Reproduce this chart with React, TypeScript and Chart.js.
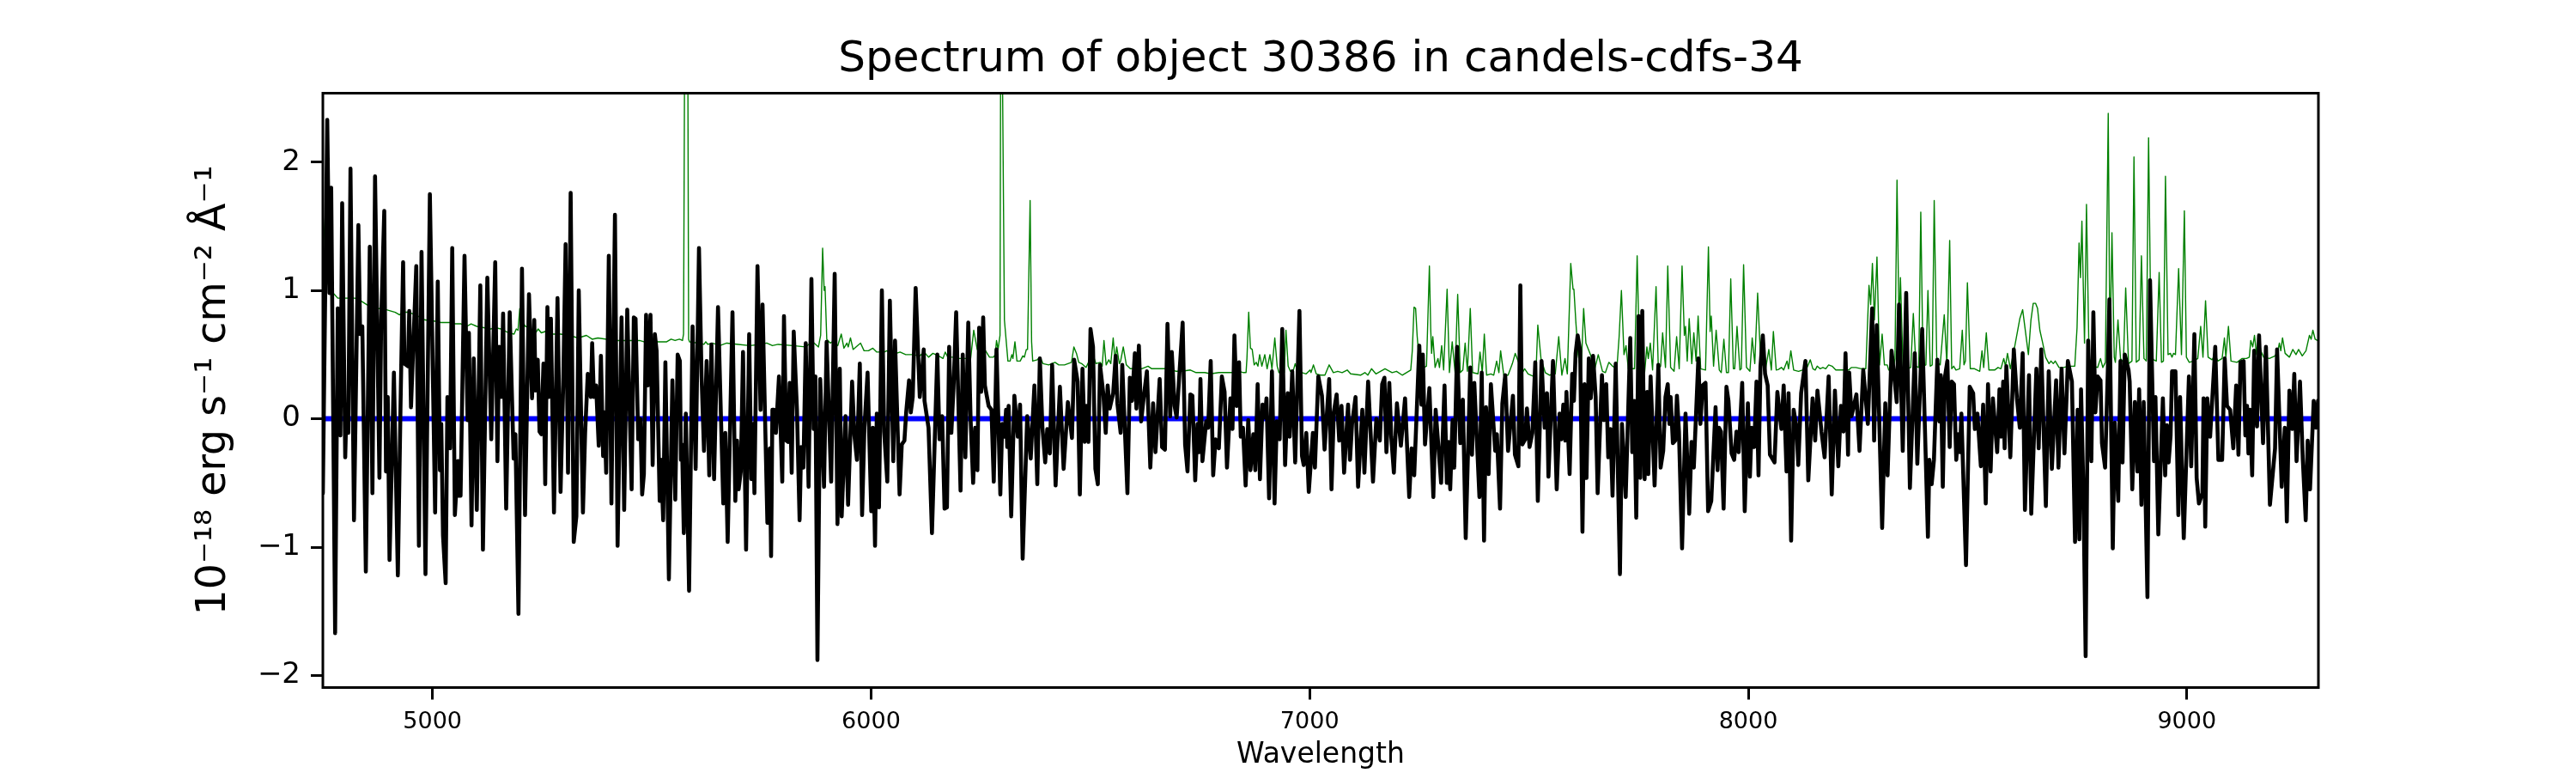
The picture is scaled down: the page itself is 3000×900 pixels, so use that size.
import { useEffect, useRef } from "react";
import { Chart, registerables } from "chart.js";

Chart.register(...registerables);

const titleText = "Spectrum of object 30386 in candels-cdfs-34";
const xLabel = "Wavelength";
const yLabel = "10⁻¹⁸ erg s⁻¹ cm⁻² Å⁻¹";
const xTickValues = [5000, 6000, 7000, 8000, 9000];
const yTickValues = [-2, -1, 0, 1, 2];
const zeroWave = [4750, 9300];
const zeroFlux = [0, 0];

const blackWave = [
4750,4760,4765,4769,4778,4784,4790,4794,4801,4804,4808,4813,4821,4831,4835,4840,4848,4857,4863,4869,4879,4883,4890,4894,4898,4902,4912,4921,4927,4933,4936,4944,4947,4951,4963,4969,4975,4984,4994,5006,5012,5017,5020,5024,5030,5034,5040,5045,5051,5058,5060,5064,5073,5080,5083,5089,5094,5101,5109,5115,5125,5134,5143,5148,5152,5157,5161,5168,5176,5185,5189,5196,5204,5211,5220,5227,5232,5235,5240,5244,5248,5253,5257,5262,
5265,5270,5277,5285,5292,5298,5303.5,5309,5315,5322,5328,5333.5,5343,5348,5354,5361,5364,5368,5373,5379,5384,5389,5392,5396,5402,5408,5416,5422,5431,5437,5444,5454,5459,5463,5469,5474,5478,5482,5487,5491,5497,5502,5507,5511,5518,5521,5526,5531,5539,5547,5553.5,5559,5564,5566.5,5569,5573,5577.6,5585,5593,5600,5607.6,5613.5,5619,5625,5631,5636,5642,5651,5663,5667.6,5673,5684,5690.5,5694.4,5698,5703,5708,5715,5722,5727,5731,5734,5741,5748,5752.5,5763.6,5769,5772,5775,
5778.5,5783,5790,5797.5,5801.4,5806.6,5810.5,5814.4,5819,5823.6,5831,5837,5840.5,5845.7,5851,5857.5,5864,5869,5873,5877.7,5884,5892.7,5898.6,5909,5917,5923.4,5928.6,5933,5941.7,5947.6,5956.7,5962,5967.8,5974.3,5979.5,5984.8,5992,6000.4,6004,6009,6013,6018,6024.6,6029.8,6037,6042.8,6050.7,6054.6,6065,6070,6076,6080,6086.6,6090.5,6095,6101.6,6111,6116,6120,6121.8,6131,6138.8,6151,6156,6162,6167.5,6173,6178,6183,6188,6194,6204,6209,6215,6221.6,6227,6232.7,6237.3,6242.5,6246.4,6251,6255.6,6259.5,6268,6274.5,6279.7,
6286,6294.7,6299,6304,6307.8,6310.4,6313.6,6319.5,6326.7,6334.5,6339.7,6345.6,6356,6364,6372.4,6379,6384.8,6390.7,6397,6401.7,6407.6,6412.8,6420.7,6430.5,6439,6448.7,6458,6463,6471,6476,6482,6487.2,6491,6495.7,6500.3,6506,6511.4,6517,6522,6529.7,6535,6539.4,6544,6552,6557.7,6561.6,6569,6572.7,6584.5,6590,6595,6601.4,6605,6610.6,6615.8,6621.7,6628.9,6636.7,6643,6648.4,6658,6663.4,6670,6675.8,6682,6685.6,6692,6696.7,6710.4,6716,6721.5,6728,6732.6,6739,6744.4,6747.6,6751,6755.5,6764,6768.5,6774.4,6780,
6785.4,6793,6799.8,6806,6811.5,6819.4,6824,6828.5,6833.7,6839,6842.9,6848,6854,6860,6865,6871.6,6876,6881.4,6886.6,6892.5,6897.7,6901.6,6907.5,6914,6920,6925,6931.6,6937.5,6944,6950,6954.5,6960.3,6967,6976.7,6982.5,6986.4,6992.3,6998,7007.3,7012,7019.7,7028,7034,7044.5,7049.8,7055,7061.5,7067.4,7072.6,7078.5,7087.6,7092,7096.7,7104.6,7110.4,7120,7124.8,7133.3,7144.4,7152,7160,7165.3,7170.5,7175,7181.6,7186,7192,7199,7208,7217.5,7227,7232.5,7238.4,7250,7255,7258,7263,7273,7282,7287.3,
7299.7,7307.5,7312.7,7316.6,7320.5,7325.8,7329.7,7336.2,7343.4,7349.3,7355.8,7366.2,7370.1,7375.4,7387.1,7392.3,7397.6,7402.1,7408,7413.2,7423,7426.9,7434.1,7439.3,7445.9,7452.4,7463.5,7468,7475.9,7480.4,7485,7491.5,7495.4,7501.3,7507.8,7514.4,7520.2,7528.7,7535.9,7541.1,7544.4,7554.8,7563.3,7569.8,7573.8,7578.3,7582.9,7585.5,7592.7,7598.6,7602.5,7606.4,7611,7616.8,7622,7626.6,7631.2,7636.4,7641,7646.2,7652.1,7656.6,7666.4,7671,7676.2,7680.8,7686,7690.6,7697.8,7707.5,7712.1,7720.6,7731,7735.6,7740.2,7744.7,7750,7753.9,7758.4,7763.7,7769.5,7772.1,7777.4,7786.5,7795,7800.2,7806.1,7811.3,
7816.5,7820.4,7823,7828.2,7833.5,7837.4,7842,7849.1,7857,7865.4,7870.7,7875.9,7886.3,7890.9,7896.1,7902.6,7908.5,7915.7,7925.5,7930,7933.3,7937.9,7943.8,7950.3,7954.9,7962,7967.9,7973.1,7978.3,7986.2,7992,7999.2,8003.8,8007.7,8013.6,8018.8,8023.4,8027.9,8033.2,8038.4,8044.3,8049.5,8054.7,8059.9,8066.4,8075.6,8080.8,8087.3,8091.9,8097.8,8103.6,8110.2,8114.1,8120.6,8130.4,8136.9,8146.7,8152.6,8157.8,8167,8174.1,8183.3,8190.4,8197.6,8205.4,8211.3,8217.2,8221.8,8227.6,8230.2,8235.5,8246.6,8253.7,8262.2,8272.7,8282.5,8287,8292.9,8305.3,8312.5,8317.7,
8326.8,8331.4,8338.6,8343.8,8352.3,8360.1,8368.6,8379.7,8385.5,8396.6,8409.7,8413,8418.2,8423.4,8431.2,8435.8,8439,8443.6,8448.2,8454,8459.3,8463.9,8469.1,8474.3,8478.2,8482.8,8486,8496.5,8505,8512.8,8516.7,8522.6,8530.4,8535.6,8541.5,8546.7,8552.6,8557.8,8567.6,8572.8,8576.7,8581.3,8584.6,8588.5,8597.6,8605.5,8612.6,8619.2,8625.7,8630.9,8640.1,8645.3,8657,8662.2,8668.1,8678.6,8685.1,8692.3,8702,8707.3,8714.4,8721,8728.8,8738,8745.1,8751,8754.9,8758.8,8764,8769.3,8775.1,8782.3,8786.9,8791.5,8796.7,8803.2,8806.5,8813.7,8820.2,8823.5,
8831.2,8835.8,8843.6,8848.8,8853.4,8858.6,8867.1,8869.7,8875.6,8881.5,8887.3,8891.3,8896.5,8901.7,8910.2,8916.1,8925.2,8928.5,8935,8945.4,8950.6,8954.6,8958.5,8963,8966.3,8974.1,8980.7,8984.6,8993,9004.8,9010,9017.2,9022.4,9027.6,9035.5,9038.1,9042,9046.6,9053.1,9064.8,9072,9080.5,9086.4,9091.6,9098.8,9106,9112.5,9117.7,9122.3,9129.5,9133.4,9137.3,9140.5,9143.8,9149,9153.6,9160.1,9164.7,9173.8,9180.4,9189.5,9201.2,9205.8,9216.3,9223.4,9228,9233.9,9240.4,9245,9250.2,9258,9264.5,9271.1,9275.6,9280.9,9289.3,9294.6,9299.1
];

const blackFlux = [
-.58,2.33,.98,1.8,-1.67,.86,-.13,1.68,-.3,.11,-.11,1.95,-.79,1.51,.66,.72,-1.19,1.34,-.58,1.89,-.46,.77,1.62,-.41,.17,-1.1,.36,-1.22,.08,1.22,.43,.41,.84,.09,1.19,-.99,1.3,-1.21,1.75,-.73,1.07,-.4,-.04,-.91,-1.28,.17,-.23,1.33,-.75,-.33,-.6,-.6,1.27,-.01,.67,-.83,.47,-.71,1.04,-1.02,1.1,-.16,1.22,-.33,.56,.17,.82,-.7,.83,-.31,-.12,-1.52,1.17,-.75,.97,.16,.77,.22,.46,-.1,-.12,.43,-.51,.87,
.17,.78,-.73,.94,-.57,.26,1.36,-.42,1.76,-.96,-.76,1,-.73,-.11,.35,.17,.59,.17,.26,-.21,.49,-.29,.05,-.42,1.27,-.66,1.59,-.99,.79,-.71,.85,-.55,.79,.78,-.16,0,-.59,-.43,.81,.26,.81,-.36,.66,.53,-.64,-.32,-.79,.44,-1.25,.3,-.63,.5,.45,-.32,-.2,-.89,.04,-1.34,.72,-.39,1.33,.33,-.25,.45,-.44,.58,-.47,.87,-.66,-.11,-.96,.83,-.64,-.17,-.55,-.41,.52,-1.02,.66,-.47,-.04,-.58,1.19,.07,.89,-.81,-.23,-1.07,.07,
.07,-.11,.33,-.49,.8,-.17,-.18,.28,-.42,.68,.07,-.79,-.22,-.38,.59,-.53,1.09,-.08,.33,-1.88,.31,-.53,.6,-.49,1.13,-.82,.39,-.76,.02,-.67,.29,-.13,-.32,.43,-.75,-.07,.36,-.72,-.07,-.99,.04,-.69,1,-.1,-.49,.92,-.33,.61,-.59,-.2,-.17,.05,.3,.05,.17,1.02,.17,.36,.54,.14,-.07,-.89,.5,-.16,.02,-.7,-.69,.56,-.11,.24,.83,-.56,.5,-.3,.75,-.01,-.5,-.07,-.4,.71,.21,.79,.26,.1,.07,-.49,
.54,-.59,-.04,-.14,.07,-.22,.1,-.76,.18,-.14,.11,-1.09,.02,-.31,.26,-.51,.47,-.07,-.34,-.08,-.27,.42,-.52,.25,-.39,.13,-.15,.46,.29,-.59,.39,-.18,.1,-.18,.7,.56,-.39,-.51,.42,.19,-.11,.26,.08,.2,.49,.12,-.11,.42,-.58,.32,.14,.51,.08,.57,-.02,.17,.37,-.38,.12,-.26,.31,-.22,-.24,.74,.02,.52,.1,.01,.75,-.2,-.41,.19,.18,-.48,-.04,-.26,.31,-.33,-.02,-.07,.45,-.44,
-.16,-.23,.33,.21,-.38,.16,-.08,.65,.1,.44,-.14,-.07,-.52,-.01,-.4,-.12,-.4,.27,-.47,.11,.01,.16,-.62,.37,-.66,-.02,-.16,.7,-.36,.2,-.14,.37,-.34,.84,-.29,-.36,-.11,-.57,-.11,-.38,.33,.18,-.24,.31,-.55,.05,.19,-.17,.1,-.42,.11,-.32,-.04,.17,-.53,.07,-.42,.29,-.49,0,-.17,.27,.32,-.26,.28,-.14,-.42,.12,-.21,.16,-.61,-.23,-.44,.57,.11,.5,-.2,.24,-.61,.07,
-.5,.26,-.5,-.18,-.55,-.01,-.38,.56,-.19,.15,-.93,.4,-.28,.28,-.61,.36,-.95,.09,-.43,.27,-.25,-.12,-.7,.12,.34,-.25,.18,-.28,-.37,1.04,-.2,-.16,.08,-.22,-.11,.44,-.64,.45,-.07,.2,-.45,.45,-.55,.04,-.16,.11,-.17,.21,-.43,.35,.14,.51,.65,.53,-.88,.27,-.46,.47,.16,.49,.17,-.58,.34,-.01,.27,-.3,-.08,-.6,.43,-1.21,-.04,-.61,.63,-.26,.14,-.77,.8,-.46,.84,-.47,.21,-.43,.33,-.52,.42,-.38,-.25,.17,
.27,-.04,.17,-.19,-.17,.18,-.1,-1.01,.04,-.74,-.18,-.38,.47,-.04,.26,.28,-.72,-.64,.09,-.4,-.07,-.1,-.7,.25,.14,-.27,-.32,-.1,-.26,.28,-.72,.12,-.45,-.07,-.22,.29,-.44,.41,.65,.35,.26,-.28,-.31,-.34,.21,-.08,.26,-.41,.2,-.95,.07,-.07,-.36,.2,.45,-.48,.16,-.17,.22,-.1,-.3,.33,-.59,.22,-.37,.1,-.1,.51,-.28,.36,.02,.19,-.25,.38,-.04,.86,-.17,.73,-.85,.12,-.44,
.53,.38,.13,.89,-.25,.98,-.54,.51,-.35,.7,-.92,-.32,-.51,-.32,.46,-.02,.34,-.53,.32,.45,-.22,.29,.27,-.32,-.12,-.26,.04,-1.14,.25,.2,-.08,.04,-.37,.11,-.66,.27,-.41,.16,-.26,.23,-.14,.29,-.23,.41,-.3,.54,.16,-.07,.51,-.71,.34,-.74,.39,-.23,.54,-.68,.37,-.39,.3,-.38,.39,-.27,.45,.29,-.96,.07,-.94,.23,-.53,-1.85,.61,-.33,.83,.05,.33,.3,-.19,-.38,.42,.93,
-1.01,-.03,-.64,.45,-.34,.5,.38,.29,-.55,.13,-.41,.23,-.67,.13,-1.39,1.08,-.33,.17,-.9,.16,-.44,-.05,-.34,-.13,.37,.37,-.75,.17,-.93,.33,-.37,.66,-.46,-.66,-.58,.16,-.84,.16,-.14,.56,-.32,-.32,.47,.1,.07,-.23,.26,-.28,.44,.45,-.13,.1,-.27,.07,-.44,.53,-.06,.65,-.19,.56,-.67,-.23,.54,-.53,-.07,-.8,.22,-.08,.35,-.33,.29,-.32,-.79,-.17,-.55,.14,-.07,.14
];

const greenWave = [
4750,4756,4762,4771,4784,4804,4823,4836,4850,4869,4879,4895,4915,4925,4931,4947,4967,4983,5006,5019,5039,5052,5065,5078,5088,5101,5117,5133,5143,5156,5173,5186,5191,5195,5199,5203,5212,5221,5235,5241,5248,5257,5267,
5273,5292,5312,5332,5351,5364,5377,5397,5423,5449,5472,5482,5498,5514,5534,5544,5553,5563,5570,5572.4,5575,5578.9,5582,5584,5586,5606,5619,5623,5628,5638,5655,5671,5697,5723,5749,5762,5775,
5788,5821,5850,5867,5880,5885,5889.5,5893,5895,5899,5907,5912,5924,5932,5938,5945,5948,5953,5959,5969,5976,5984,5994,6004,6013,6030,6036,6049,6066,6079,6095,6111,6121,6131,6141,6154,6164,6169,6175,6186,6199,6227,6234,6242,6252,6261,
6270,6279,6283,6286,6289.5,6294,6295.4,6297.3,6299.3,6304,6307,6312,6317,6321,6323.4,6328,6332.6,6340,6346,6349.5,6354,6356.7,6362.6,6366,6368.5,6379,6385.4,6392,6405,6419.4,6428,6441,6457,6462.4,6468.3,6473.5,6480,6490,6494.4,6501,6506,6512.7,6522.5,6527,6531,6536,6542,6546.6,6552,6556.4,6560,6566,6569,6575,6582,6591,6604,6617,6631.5,6640,6656,6682.4,6695.4,6708.5,6728,6741,6761,6774,6793,
6822.6,6839,6849,6855,6857,6861,6865,6869,6873.5,6878,6882,6886,6891,6897.7,6903,6909.4,6914,6920.5,6926,6930,6942,6946,6951,6956,6963,6967,6973,6982.5,6992,7001,7003,7008.6,7015,7025,7034.8,7044.5,7054,7064,7074,7085.6,7093.5,7116,7126,7132.6,7141,7151,7171.8,7188,7198,7211,7220.7,7230.5,7234,7238,7241.6,7245,7250,7260,7266.4,7273,7276,7278,7280.8,7286,7292.5,7296,7301,
7305.5,7313.4,7318.6,7325,7331.6,7337.5,7343.4,7349.3,7354.5,7359.7,7366.2,7371.5,7383.9,7388.4,7393.6,7398.2,7403.4,7413.2,7419.7,7426.3,7431.5,7435.4,7442.6,7452.4,7462.2,7468.7,7475.2,7485,7490.2,7498,7511.1,7516.3,7520.2,7527.4,7537.2,7547,7560,7567.9,7575,7582.2,7587.5,7595.3,7600.5,7602.5,7607,7612.3,7618.8,7624.7,7629.9,7640.3,7649.5,7658,7667.7,7674.3,7682.1,7690.6,7700.4,7705.6,7710.8,7716.7,7721.3,7726.5,7740.8,7746.7,7752.6,7757.8,7763.7,7768.9,7772.1,7776.7,7781.9,7789.8,7795,7800.2,7804.8,7811.3,
7816.5,7823,7830.9,7836.7,7842.6,7849.1,7854.3,7857,7860.9,7865.4,7871.3,7875.9,7881.1,7885.7,7891.6,7902.6,7909.2,7913.1,7915.7,7920.9,7926.8,7934,7938.5,7944.4,7950.3,7954.9,7960.1,7966,7969.2,7974.4,7981,7984.2,7989.4,7996,8003.8,8009,8014.9,8021.4,8027.9,8034.5,8039.7,8046.9,8052.7,8057.3,8063.8,8069,8075.6,8080.8,8084.1,8088.6,8091.9,8097.1,8103.6,8114.7,8127.8,8134.3,8141.5,8147.4,8152.6,8157.2,8163.7,8170.2,8176.7,8183.3,8191.1,8199.6,8215.9,8229,8235.5,8245.3,8258.3,8268.1,8275.3,8279.2,8283.1,8287.7,8293.5,8299.4,8305.3,8310.5,8317,8320.3,
8326.8,8331.4,8334.6,8339.2,8343.8,8347,8352.9,8362.7,8370.5,8376.4,8382.3,8388.8,8393.4,8398.6,8405.1,8409.7,8414.9,8419.5,8424,8429.9,8437.7,8446.9,8452.8,8459.3,8463.9,8468.4,8473.6,8482.1,8488,8491.9,8495.2,8499.7,8506.3,8516,8527.8,8533,8536.9,8542.8,8548.7,8561.7,8569.6,8576.1,8582.6,8586.5,8591.1,8597.6,8607.4,8619.2,8625.7,8638.8,8644.6,8649.8,8655,8659.6,8664.9,8671.4,8677.9,8685.7,8690.3,8695.5,8700,8708.6,8718.4,8731.4,8744.5,8749.7,8754.3,8757.5,8760.8,8766.7,8771.2,8777.1,8786.9,8796.7,8803.2,8808.4,8814.3,
8820.8,8824.7,8829.3,8834.5,8837.1,8843,8848.8,8855.4,8860.6,8867.1,8874.9,8879.5,8884.7,8891.3,8896.5,8902.3,8907.6,8912.8,8918.7,8923.9,8930.4,8936.9,8942.2,8946.7,8951.3,8957.2,8962.4,8966.3,8969.6,8974.1,8981.3,8987.8,8994.4,8999,9005.5,9015.2,9025,9031.6,9036.8,9042.7,9048.5,9057.7,9064.2,9070.7,9080.5,9085.7,9089,9094.9,9100.7,9114.4,9126.2,9136,9142.5,9145.8,9150.3,9154.3,9158.8,9162.7,9168.6,9175.1,9188.2,9201.2,9207.8,9211,9214.3,9218.2,9224.1,9233.9,9241.7,9248.9,9254.8,9263.2,9271.7,9279.6,9283.5,9287.4,9292.6,9297.8,9300
];

const greenFlux = [
1.6,1.3,1.05,.99,.94,.94,.94,.92,.89,.85,.86,.85,.83,.81,.83,.83,.8,.77,.76,.75,.75,.74,.74,.72,.74,.72,.71,.7,.71,.7,.67,.66,.7,.69,.86,.77,.72,.71,.67,.7,.67,.68,.71,
.66,.66,.65,.63,.65,.62,.63,.62,.61,.61,.61,.6,.62,.6,.6,.62,.61,.62,.61,.66,3,4,3,.62,.6,.59,.58,.6,.58,.59,.57,.59,.58,.57,.58,.59,.57,
.58,.57,.56,.6,.56,.65,1.33,1,1.03,.62,.59,.6,.57,.66,.55,.59,.56,.63,.54,.57,.59,.53,.53,.55,.52,.52,.53,.5,.52,.5,.5,.49,.52,.48,.51,.49,.47,.52,.48,.48,.47,.47,.69,.54,.5,.53,
.48,.48,.5,.61,.54,.65,2.8,4,2.8,.77,.65,.45,.45,.5,.47,.6,.45,.45,.49,.48,.54,.54,1.7,.6,.45,.46,.48,.43,.42,.44,.42,.42,.44,.56,.51,.44,.43,.4,.43,.5,.5,.43,.44,.41,.61,.42,.46,.43,.63,.45,.56,.43,.45,.56,.42,.39,.39,.39,.41,.39,.39,.39,.37,.37,.38,.36,.36,.35,.36,
.36,.37,.36,.36,.47,.83,.55,.54,.42,.44,.41,.5,.41,.5,.39,.5,.39,.63,.41,.36,.36,.69,.41,.37,.38,.43,.36,.36,.35,.38,.36,.42,.35,.34,.34,.42,.36,.37,.36,.38,.35,.34,.36,.34,.39,.35,.39,.36,.37,.34,.36,.38,.53,.87,.86,.65,.44,.4,.41,1.19,.7,.51,.64,.4,.47,.4,.57,
.38,1.01,.36,.6,.36,.97,.36,.38,.59,.37,.86,.36,.35,.52,.36,.66,.34,.35,.34,.45,.36,.53,.34,.34,.43,.51,.45,.36,.39,.35,.33,.38,.73,.47,.36,.34,.35,.64,.34,.47,.35,1.21,1.01,1.01,.75,.5,.36,.86,.59,.5,.38,.5,.37,.36,.44,.41,.39,.64,1,.5,.57,.39,.39,1.27,.39,.64,.36,.56,.47,.59,.38,1.03,.39,.41,.67,.4,
1.19,.4,.37,.64,.39,1.19,.65,.72,.45,.78,.43,.67,.45,.8,.39,.38,1.34,.68,.8,.41,.69,.38,.36,.62,.36,.36,1.09,.39,.39,.72,.38,.39,1.2,.4,.37,.63,.43,.98,.48,.41,.39,.54,.38,.68,.38,.385,.4,.38,.41,.45,.39,.53,.38,.37,.385,.4,.46,.39,.38,.41,.39,.4,.39,.42,.41,.38,.38,.38,.4,.4,.39,.39,1.04,.89,1.21,.77,1.26,.42,.66,.42,.42,.38,
.38,.39,.47,1.86,.71,1.1,.41,.39,.4,.82,.41,.4,1.61,.41,.42,1,.41,.42,1.7,.44,.42,.81,.43,1.39,.39,.41,.38,.39,.69,.42,.45,1.06,.39,.39,.37,.53,.4,.67,.38,.38,.4,.39,.47,.41,.51,.39,.56,.78,.85,.5,.77,.9,.9,.86,.69,.59,.48,.43,.45,.43,.45,.4,.4,.41,.41,.71,1.37,1.1,1.54,.59,1.67,.47,.41,.4,.47,.4,.44,
2.38,.5,1.45,.48,.44,.77,.47,.44,1.02,.43,.45,2.04,.44,.46,1.27,.47,.45,2.19,.5,.46,.45,1.14,.44,.45,1.89,.5,.51,.48,.51,.5,1.17,.5,1.62,.48,.44,.45,.47,.72,.48,.92,.48,.46,.5,.45,.47,.63,.48,.72,.45,.44,.47,.47,.48,.61,.56,.65,.5,.66,.53,.48,.47,.49,.53,.59,.53,.63,.51,.48,.54,.5,.54,.49,.53,.65,.62,.69,.62,.61,.62
];

const zip = (xs: number[], ys: number[]) => {
  const n = Math.min(xs.length, ys.length);
  const out: { x: number; y: number }[] = [];
  for (let i = 0; i < n; i++) out.push({ x: xs[i], y: ys[i] });
  return out;
};

const framePlugin = {
  id: "frame",
  afterDatasetsDraw(chart: any) {
    const { ctx, chartArea: a } = chart;
    ctx.save();
    ctx.strokeStyle = "#000";
    ctx.lineWidth = 3;
    ctx.strokeRect(a.left, a.top, a.right - a.left, a.bottom - a.top);
    ctx.restore();
  },
};

export default function App() {
  const ref = useRef<HTMLCanvasElement>(null);
  useEffect(() => {
    const family = "'DejaVu Sans'";
    const chart = new Chart(ref.current!, {
      type: "line",
      data: {
        datasets: [
          { label: "flux", data: zip(blackWave, blackFlux), borderColor: "#000000", borderWidth: 4.6, pointRadius: 0, tension: 0, order: 1, borderJoinStyle: "round", borderCapStyle: "round" },
          { label: "zero", data: zip(zeroWave, zeroFlux), borderColor: "#0000ff", borderWidth: 6, pointRadius: 0, tension: 0, order: 2 },
          { label: "error", data: zip(greenWave, greenFlux), borderColor: "#008000", borderWidth: 1.4, pointRadius: 0, tension: 0, order: 3, borderJoinStyle: "round" },
        ],
      },
      options: {
        responsive: false,
        animation: false,
        devicePixelRatio: 1,
        parsing: false,
        layout: { padding: { right: 300, top: 0, bottom: 0, left: 0 } },
        plugins: {
          legend: { display: false },
          tooltip: { enabled: false },
          title: {
            display: true,
            text: titleText,
            fullSize: false,
            color: "#000",
            font: { family, size: 50, weight: "normal", lineHeight: 1.2 },
            padding: { top: 40, bottom: 8.5 },
          },
        },
        scales: {
          x: {
            type: "linear",
            min: 4750,
            max: 9300,
            afterFit: (s: any) => { s.height = 99.5; },
            afterBuildTicks: (s: any) => { s.ticks = xTickValues.map((value) => ({ value })); },
            border: { display: false },
            grid: { drawOnChartArea: false, tickLength: 14, tickWidth: 3, tickColor: "#000" },
            ticks: {
              color: "#000",
              font: { family, size: 27 },
              padding: 10,
              maxRotation: 0,
              autoSkip: false,
              callback: (v: any) => String(v),
            },
            title: { display: true, text: xLabel, color: "#000", font: { family, size: 33 }, padding: { top: 0, bottom: 1 } },
          },
          y: {
            type: "linear",
            min: -2.094,
            max: 2.537,
            afterFit: (s: any) => { s.width = 376; },
            afterBuildTicks: (s: any) => { s.ticks = yTickValues.map((value) => ({ value })); },
            border: { display: false },
            grid: { drawOnChartArea: false, tickLength: 14, tickWidth: 3, tickColor: "#000" },
            ticks: {
              color: "#000",
              font: { family, size: 34 },
              padding: 12,
              autoSkip: false,
              callback: (v: any) => (v < 0 ? "\u2212" + Math.abs(v) : String(v)),
            },
            title: { display: true, text: yLabel, color: "#000", font: { family, size: 47.5 }, padding: { top: 221, bottom: 0 } },
          },
        },
      },
      plugins: [framePlugin],
    } as any);
    return () => chart.destroy();
  }, []);
  return (
    <div style={{ position: "fixed", left: 0, top: 0, width: 3000, height: 900, background: "#fff" }}>
      <canvas ref={ref} width={3000} height={900} style={{ display: "block" }} />
    </div>
  );
}
